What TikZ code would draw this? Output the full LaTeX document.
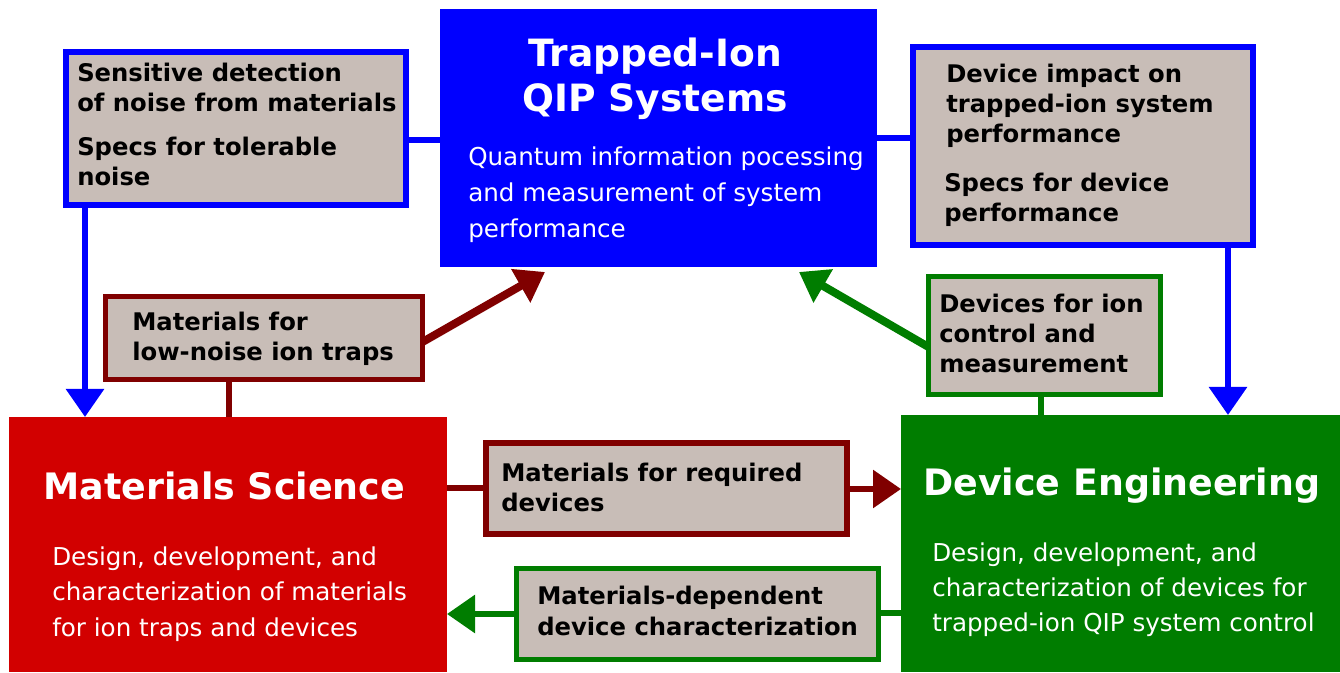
\documentclass[tikz,border=0pt]{standalone}
\usepackage{fontspec}
\setmainfont{DejaVu Sans}
\usetikzlibrary{arrows.meta}
\newlength\px \setlength\px{0.75pt}
\definecolor{qblue}{HTML}{0000FF}
\definecolor{qred}{HTML}{D20000}
\definecolor{qgreen}{HTML}{007D00}
\definecolor{qmaroon}{HTML}{800000}
\definecolor{qgray}{HTML}{C8BDB7}
\tikzset{
  box/.style={rectangle, inner sep=0pt, outer sep=0pt},
  graybox/.style={box, fill=qgray},
  lbl/.style={anchor=base west, inner sep=0pt, align=left, text=black,
    font=\bfseries\fontsize{18.2}{22.8}\selectfont},
  ttl/.style={inner sep=0pt, text=white, font=\bfseries\fontsize{28.2}{33.75}\selectfont},
  ttlb/.style={inner sep=0pt, text=white, font=\bfseries\fontsize{27.3}{33.75}\selectfont},
  body/.style={anchor=base west, inner sep=0pt, align=left, text=white,
    font=\fontsize{18.45}{27}\selectfont},
  conn/.style={line width=6\px},
  diag/.style={line width=8\px},
  tip/.style={-{Triangle[width=27.75pt,length=21pt]}},
}
\begin{document}
\begin{tikzpicture}[x=0.75pt,y=-0.75pt]
\useasboundingbox (0,0) rectangle (1340,673);
% main boxes
\node[box, fill=qblue, minimum width=437\px, minimum height=258\px] (tq) at (658.5,138) {};
\node[box, fill=qred, minimum width=438\px, minimum height=255\px] (ms) at (228,544.5) {};
\node[box, fill=qgreen, minimum width=439\px, minimum height=257\px] (de) at (1120.5,543.5) {};
% gray boxes
\node[graybox, draw=qblue, line width=6\px, minimum width=340\px, minimum height=153\px] (sd) at (236,128.5) {};
\node[graybox, draw=qblue, line width=6\px, minimum width=340\px, minimum height=198\px] (di) at (1083,146) {};
\node[graybox, draw=qgreen, line width=5\px, minimum width=232\px, minimum height=118\px] (dc) at (1044.5,335.5) {};
\node[graybox, draw=qmaroon, line width=5\px, minimum width=317\px, minimum height=83\px] (ml) at (264,338) {};
\node[graybox, draw=qmaroon, line width=6\px, minimum width=361\px, minimum height=91\px] (mr) at (666.5,488.5) {};
\node[graybox, draw=qgreen, line width=5\px, minimum width=362\px, minimum height=91\px] (md) at (697.5,614) {};
% titles and bodies (base = last line)
\node[ttl, anchor=base, align=center] (tqt) at (655,112) {Trapped-Ion\\QIP Systems};
\node[body] (tqb) at (468,238) {Quantum information pocessing\\and measurement of system\\performance};
\node[ttlb, anchor=base west] (mst) at (43,500) {Materials Science};
\node[body] (msb) at (52,637) {Design, development, and\\characterization of materials\\for ion traps and devices};
\node[ttlb, anchor=base west] (det) at (923,496) {Device Engineering};
\node[body, font=\fontsize{18.45}{26.25}\selectfont] (deb) at (932,632) {Design, development, and\\characterization of devices for\\trapped-ion QIP system control};
% gray box labels
\node[lbl] (sd1) at (77,112) {Sensitive detection\\of noise from materials};
\node[lbl] (sd2) at (77,186) {Specs for tolerable\\noise};
\node[lbl] (di1) at (946,143) {Device impact on\\trapped-ion system\\performance};
\node[lbl] (di2) at (944,222) {Specs for device\\performance};
\node[lbl] (dc1) at (939,373) {Devices for ion\\control and\\measurement};
\node[lbl] (ml1) at (132,361) {Materials for\\low-noise ion traps};
\node[lbl] (mr1) at (501,512) {Materials for required\\devices};
\node[lbl] (md1) at (537,635) {Materials-dependent\\device characterization};
% connectors
\coordinate (tqg) at (799,272);
\coordinate (tqm) at (545,272);
\draw[conn, qblue] (sd.east |- 0,140) -- (tq.west |- 0,140);
\draw[conn, qblue, tip] (sd.south -| 85,0) -- (ms.north -| 85,0);
\draw[conn, qblue] (tq.east |- 0,138) -- (di.west |- 0,138);
\draw[conn, qblue, tip] (di.south -| 1228,0) -- (de.north -| 1228,0);
\draw[conn, qgreen] (dc.south -| 1041,0) -- (de.north -| 1041,0);
\draw[diag, qgreen, tip] (dc.west |- 0,347) -- (tqg);
\draw[diag, qmaroon, tip] (ml.east |- 0,342) -- (tqm);
\draw[conn, qmaroon] (ml.south -| 229,0) -- (ms.north -| 229,0);
\draw[conn, qmaroon] (ms.east |- 0,488) -- (mr.west |- 0,488);
\draw[conn, qmaroon, tip] (mr.east |- 0,489) -- (de.west |- 0,489);
\draw[conn, qgreen] (de.west |- 0,613) -- (md.east |- 0,613);
\draw[conn, qgreen, tip] (md.west |- 0,614) -- (ms.east |- 0,614);
\end{tikzpicture}
\end{document}
